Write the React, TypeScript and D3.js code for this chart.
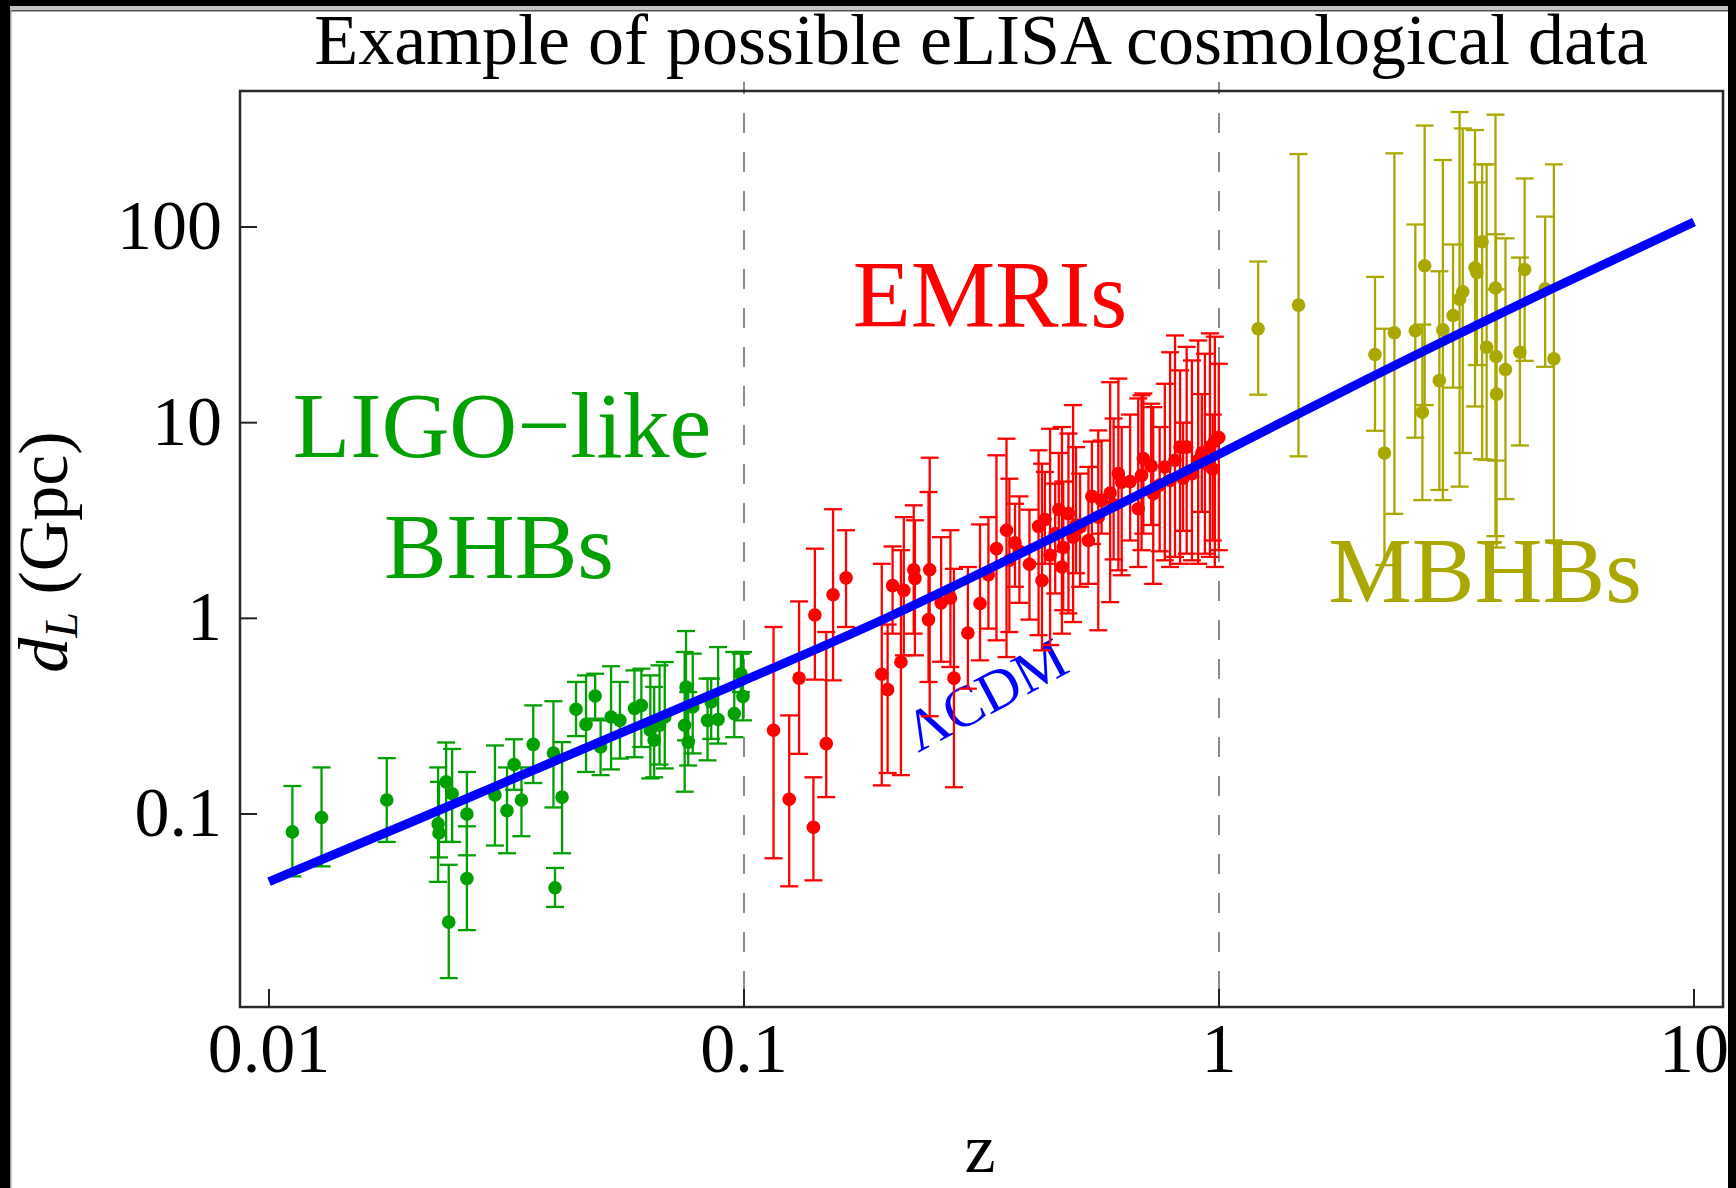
import React from 'react';
import * as d3 from 'd3';

// ---------- data ----------
const xTicks = [0.01, 0.1, 1, 10];
const xTickLabels = ['0.01', '0.1', '1', '10'];
const yTicks = [0.1, 1, 10, 100];
const yTickLabels = ['0.1', '1', '10', '100'];
const dividers = [0.1, 1];

// LCDM luminosity distance curve (z, dL in Gpc)
const lcdmZ = [0.01, 0.02, 0.05, 0.1, 0.2, 0.5, 1, 2, 5, 10];
const lcdmDL = [0.0451, 0.0913, 0.235, 0.481, 1.007, 2.96, 6.9, 16.2, 48.1, 106];

// [z, dL, lower, upper]
const ligoData: [number, number, number, number][] = [
  [0.0112, 0.081, 0.048, 0.139],
  [0.0129, 0.096, 0.054, 0.173],
  [0.0177, 0.118, 0.072, 0.193],
  [0.0227, 0.089, 0.045, 0.173],
  [0.0228, 0.080, 0.060, 0.146],
  [0.0236, 0.146, 0.072, 0.232],
  [0.0243, 0.127, 0.072, 0.215],
  [0.0239, 0.028, 0.0145, 0.055],
  [0.0261, 0.100, 0.0615, 0.164],
  [0.0261, 0.0468, 0.0255, 0.0865],
  [0.0299, 0.125, 0.069, 0.224],
  [0.0317, 0.104, 0.063, 0.173],
  [0.0328, 0.179, 0.133, 0.241],
  [0.034, 0.118, 0.077, 0.173],
  [0.036, 0.227, 0.144, 0.359],
  [0.0397, 0.205, 0.108, 0.377],
  [0.0414, 0.122, 0.063, 0.233],
  [0.040, 0.042, 0.0335, 0.053],
  [0.0443, 0.343, 0.25, 0.473],
  [0.0465, 0.287, 0.164, 0.511],
  [0.0486, 0.401, 0.307, 0.521],
  [0.0499, 0.22, 0.158, 0.301],
  [0.0525, 0.313, 0.169, 0.569],
  [0.0548, 0.301, 0.192, 0.473],
  [0.0588, 0.346, 0.195, 0.542],
  [0.0608, 0.359, 0.22, 0.553],
  [0.0635, 0.268, 0.152, 0.511],
  [0.0647, 0.238, 0.154, 0.446],
  [0.0664, 0.284, 0.179, 0.575],
  [0.0681, 0.313, 0.171, 0.598],
  [0.0755, 0.446, 0.238, 0.861],
  [0.075, 0.284, 0.13, 0.673],
  [0.0763, 0.233, 0.177, 0.42],
  [0.078, 0.352, 0.204, 0.66],
  [0.0838, 0.301, 0.188, 0.492],
  [0.0853, 0.374, 0.242, 0.492],
  [0.0882, 0.304, 0.229, 0.713],
  [0.0954, 0.326, 0.247, 0.673],
  [0.0995, 0.399, 0.301, 0.673],
  [0.0985, 0.52, 0.42, 0.66],
];

const emriData: [number, number, number, number][] = [
  [0.1154, 0.268, 0.0594, 0.903],
  [0.1245, 0.119, 0.0427, 0.319],
  [0.1306, 0.495, 0.203, 1.22],
  [0.141, 1.04, 0.486, 2.27],
  [0.14, 0.0855, 0.0458, 0.154],
  [0.149, 0.229, 0.122, 0.851],
  [0.154, 1.32, 0.482, 3.61],
  [0.164, 1.61, 0.903, 2.82],
  [0.195, 0.518, 0.14, 1.9],
  [0.2006, 0.432, 0.162, 0.93],
  [0.2055, 1.47, 0.835, 2.33],
  [0.214, 0.598, 0.158, 2.23],
  [0.217, 1.39, 0.647, 3.29],
  [0.2277, 1.77, 0.835, 3.78],
  [0.229, 1.6, 0.647, 3.17],
  [0.2446, 0.985, 0.473, 4.42],
  [0.246, 1.77, 0.316, 6.62],
  [0.26, 1.2, 0.6, 2.6],
  [0.272, 1.27, 0.564, 2.82],
  [0.2767, 0.495, 0.137, 1.79],
  [0.296, 0.841, 0.437, 1.83],
  [0.314, 1.19, 0.61, 3.02],
  [0.327, 1.67, 0.886, 3.29],
  [0.34, 2.27, 0.772, 6.81],
  [0.357, 2.82, 0.634, 8.28],
  [0.362, 1.98, 0.851, 5.17],
  [0.372, 2.43, 1.45, 3.85],
  [0.38, 2.2, 1.2, 4.2],
  [0.399, 1.89, 0.985, 3.59],
  [0.417, 2.95, 0.82, 7.22],
  [0.424, 1.56, 0.686, 6.17],
  [0.43, 3.2, 1.9, 5.6],
  [0.441, 2.1, 0.73, 9.31],
  [0.452, 2.71, 1.34, 4.88],
  [0.46, 3.6, 2.2, 7.0],
  [0.467, 1.83, 0.835, 9.5],
  [0.47, 2.3, 1.1, 5.0],
  [0.482, 3.43, 1.06, 8.8],
  [0.493, 2.6, 0.957, 12.3],
  [0.5, 3.0, 1.7, 7.5],
  [0.51, 2.93, 1.45, 5.49],
  [0.531, 2.5, 1.5, 5.94],
  [0.54, 4.2, 2.4, 8.0],
  [0.557, 3.29, 0.869, 9.13],
  [0.566, 4.01, 2.71, 8.1],
  [0.59, 4.37, 1.21, 16.1],
  [0.6, 3.8, 2.0, 10.5],
  [0.614, 5.49, 1.76, 16.8],
  [0.624, 4.97, 1.66, 9.5],
  [0.65, 5.0, 2.5, 11],
  [0.676, 3.63, 1.83, 13.3],
  [0.687, 5.38, 2.23, 13.8],
  [0.693, 6.55, 2.71, 14.1],
  [0.72, 6.0, 3.0, 12.5],
  [0.727, 4.34, 1.5, 12.0],
  [0.75, 4.8, 2.2, 9.5],
  [0.769, 5.94, 1.98, 15.8],
  [0.789, 5.06, 1.83, 22.9],
  [0.808, 6.43, 2.06, 27.9],
  [0.828, 7.5, 1.9, 18.5],
  [0.84, 5.2, 2.8, 10],
  [0.855, 7.5, 2.14, 24.4],
  [0.877, 5.49, 1.98, 20.8],
  [0.904, 6.43, 1.9, 26.3],
  [0.92, 7.0, 3.5, 14],
  [0.934, 6.2, 2.14, 22.5],
  [0.957, 7.5, 2.06, 28.6],
  [0.97, 5.8, 2.5, 11],
  [0.98, 8.1, 1.83, 27.5],
  [0.999, 8.4, 2.23, 20.0],
];

const mbhbData: [number, number, number, number][] = [
  [1.209, 30.2, 13.9, 66.6],
  [1.47, 39.9, 6.73, 236],
  [2.13, 22.3, 9.09, 55.6],
  [2.23, 7.0, 1.87, 30.2],
  [2.34, 28.8, 3.42, 238],
  [2.59, 29.5, 8.38, 103],
  [2.68, 11.3, 4.02, 31.7],
  [2.71, 63.4, 12.3, 330],
  [2.91, 16.4, 4.53, 59.4],
  [2.96, 29.8, 4.02, 220],
  [3.11, 35.3, 15.1, 81.4],
  [3.21, 42.8, 4.71, 387],
  [3.26, 46.7, 7.0, 319],
  [3.46, 61.9, 12.1, 313],
  [3.49, 58.6, 19.7, 169],
  [3.58, 84, 6.5, 209],
  [3.66, 24.3, 6.45, 209],
  [3.82, 48.8, 2.63, 375],
  [3.83, 21.8, 6.4, 91.8],
  [3.84, 14.0, 2.3, 48],
  [4.01, 18.7, 4.07, 87.5],
  [4.3, 22.9, 7.65, 69.8],
  [4.4, 60.6, 20.7, 177],
  [4.86, 48.3, 19.3, 113],
  [5.07, 21.2, 2.5, 209],
];

// ---------- styling ----------
const GREEN = '#00a000';
const RED = '#ff0000';
const OLIVE = '#aaa800';
const BLUE = '#0000ff';
const SERIF = '"Liberation Serif", "DejaVu Serif", "Times New Roman", serif';

const W = 1736;
const H = 1188;
const frame = { left: 240, right: 1723, top: 91, bottom: 1007 };

export default function App() {
  const x = d3.scaleLog().domain([0.01, 10]).range([269, 1694]);
  const y = d3.scaleLog().domain([0.1, 100]).range([814, 227]);

  const lcdm = lcdmZ.map((z, i) => [z, lcdmDL[i]] as [number, number]);
  const linePath = d3
    .line<[number, number]>()
    .x((d) => x(d[0]))
    .y((d) => y(d[1]))
    .curve(d3.curveMonotoneX)(lcdm) as string;

  const capHalf = 9;

  const series = [
    { data: ligoData, color: GREEN },
    { data: emriData, color: RED },
    { data: mbhbData, color: OLIVE },
  ];

  return (
    <div>
      <style>{`body{margin:0;background:#fff}`}</style>
      <svg width={W} height={H} viewBox={`0 0 ${W} ${H}`} style={{ display: 'block' }}>
        <rect x={0} y={0} width={W} height={H} fill="#fff" />
        <defs>
          <clipPath id="plotClip">
            <rect x={frame.left} y={frame.top} width={frame.right - frame.left} height={frame.bottom - frame.top} />
          </clipPath>
        </defs>

        {/* title */}
        <text x={981} y={64} textAnchor="middle" fontFamily={SERIF} fontSize={72} fill="#000">
          Example of possible eLISA cosmological data
        </text>

        {/* dashed region dividers */}
        {dividers.map((d) => (
          <line
            key={'div' + d}
            x1={x(d)}
            x2={x(d)}
            y1={82}
            y2={1010}
            stroke="#8a8a8a"
            strokeWidth={2}
            strokeDasharray="20 19"
            strokeDashoffset={8}
          />
        ))}

        {/* frame */}
        <rect
          x={frame.left}
          y={frame.top}
          width={frame.right - frame.left}
          height={frame.bottom - frame.top}
          fill="none"
          stroke="#2a2a2a"
          strokeWidth={2.5}
        />

        {/* x ticks */}
        {xTicks.map((t, i) => (
          <g key={'xt' + t}>
            <line x1={x(t)} x2={x(t)} y1={frame.bottom} y2={frame.bottom - 18} stroke="#222" strokeWidth={2} />
            <text x={x(t)} y={1072} textAnchor="middle" fontFamily={SERIF} fontSize={70} fill="#000">
              {xTickLabels[i]}
            </text>
          </g>
        ))}

        {/* y ticks */}
        {yTicks.map((t, i) => (
          <g key={'yt' + t}>
            <line x1={frame.left} x2={frame.left + 17} y1={y(t)} y2={y(t)} stroke="#222" strokeWidth={2} />
            <text x={222} y={y(t) + 22} textAnchor="end" fontFamily={SERIF} fontSize={70} fill="#000">
              {yTickLabels[i]}
            </text>
          </g>
        ))}

        {/* axis labels */}
        <text x={980} y={1172} textAnchor="middle" fontFamily={SERIF} fontSize={70} fill="#000">
          z
        </text>
        <g transform="translate(67,552) rotate(-90)">
          <text x={0} y={0} textAnchor="middle" fontFamily={SERIF} fontSize={70} fill="#000">
            <tspan fontStyle="italic">d</tspan>
            <tspan fontStyle="italic" fontSize={46} dy={10}>L</tspan>
            <tspan dy={-10}> (Gpc)</tspan>
          </text>
        </g>

        {/* region labels */}
        <text x={502} y={457} textAnchor="middle" fontFamily={SERIF} fontSize={94} fill={GREEN}>
          LIGO−like
        </text>
        <text x={499} y={578} textAnchor="middle" fontFamily={SERIF} fontSize={94} fill={GREEN}>
          BHBs
        </text>
        <text x={990} y={327} textAnchor="middle" fontFamily={SERIF} fontSize={95} fill={RED}>
          EMRIs
        </text>
        <text x={1485} y={602} textAnchor="middle" fontFamily={SERIF} fontSize={94} fill={OLIVE}>
          MBHBs
        </text>
        <text
          x={0}
          y={0}
          transform="translate(995,712) rotate(-28)"
          textAnchor="middle"
          fontFamily={SERIF}
          fontSize={58}
          fill={BLUE}
        >
          ΛCDM
        </text>

        {/* data */}
        <g clipPath="url(#plotClip)">
          {series.map((s, si) => (
            <g key={'s' + si} stroke={s.color} fill={s.color}>
              {s.data.map((d, i) => {
                const cx = x(d[0]);
                const yLo = y(d[2]);
                const yHi = y(d[3]);
                return (
                  <g key={i}>
                    <line x1={cx} x2={cx} y1={yLo} y2={yHi} strokeWidth={2.3} />
                    <line x1={cx - capHalf} x2={cx + capHalf} y1={yLo} y2={yLo} strokeWidth={2.3} />
                    <line x1={cx - capHalf} x2={cx + capHalf} y1={yHi} y2={yHi} strokeWidth={2.3} />
                  </g>
                );
              })}
              {s.data.map((d, i) => (
                <circle key={'c' + i} cx={x(d[0])} cy={y(d[1])} r={6.8} stroke="none" />
              ))}
            </g>
          ))}

          {/* LCDM line */}
          <path d={linePath} fill="none" stroke={BLUE} strokeWidth={9} strokeLinecap="butt" />
        </g>

        {/* outer screenshot border */}
        <rect x={0} y={0} width={W} height={6} fill="#000" />
        <rect x={0} y={6} width={W} height={4} fill="#c4c4c4" />
        <rect x={0} y={10} width={W} height={1.5} fill="#555" />
        <rect x={0} y={0} width={10} height={H} fill="#000" />
        <rect x={10} y={10} width={1.5} height={H - 10} fill="#999" />
        <rect x={1728} y={0} width={8} height={H} fill="#000" />
      </svg>
    </div>
  );
}
